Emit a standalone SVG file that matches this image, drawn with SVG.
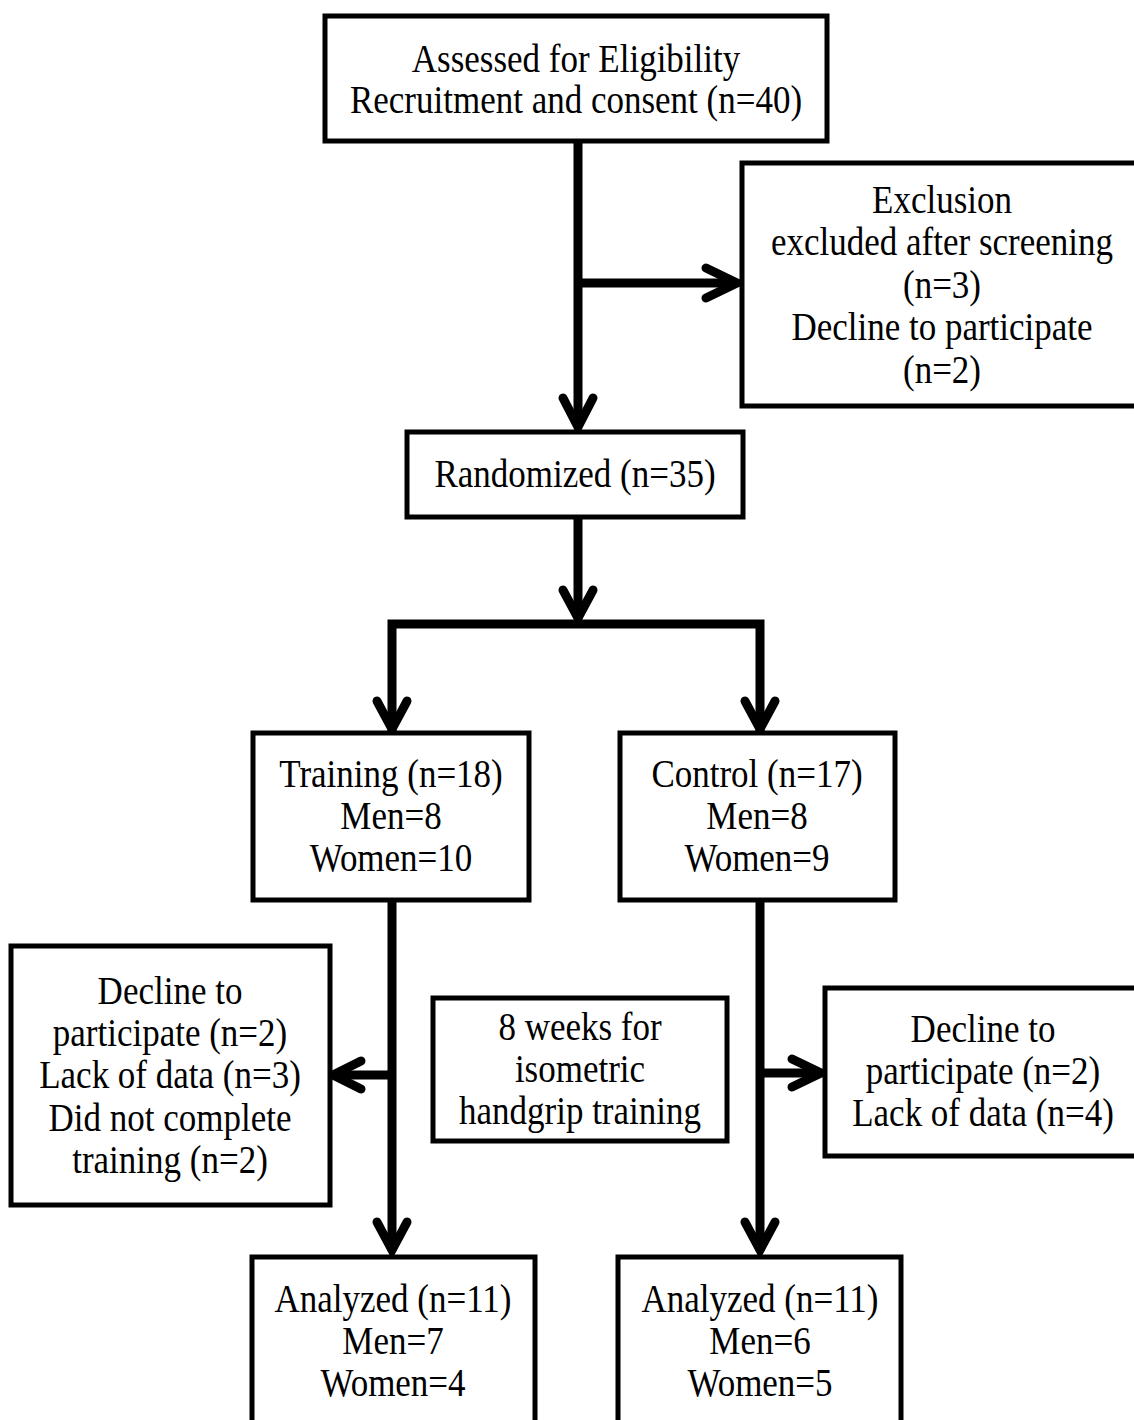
<svg xmlns="http://www.w3.org/2000/svg" width="1134" height="1420" viewBox="0 0 1134 1420">
<defs>
<style>
.box{fill:#fff;stroke:#000;stroke-width:5}
.t{font-family:"Liberation Serif","Times New Roman",serif;font-size:35px;fill:#000;text-anchor:middle}
.ln{fill:none;stroke:#000;stroke-width:9;stroke-linecap:butt}
.ah{fill:none;stroke:#000;stroke-width:9;stroke-linecap:round;stroke-linejoin:miter}
</style>
</defs>
<rect width="1134" height="1420" fill="#fff"/>
<g id="connectors">
<path class="ln" d="M578,141 V426"/>
<path class="ln" d="M578,283 H736"/>
<path class="ah" d="M706,268 L737,283 L706,298"/>
<path class="ah" d="M563,398 L578,427 L593,398"/>
<path class="ln" d="M578,517 V618"/>
<path class="ah" d="M563,590 L578,618 L593,590"/>
<path class="ln" d="M392,731 V624 H760 V731"/>
<path class="ah" d="M377,701 L392,729 L407,701"/>
<path class="ah" d="M745,701 L760,729 L775,701"/>
<path class="ln" d="M392,900 V1251"/>
<path class="ah" d="M377,1222 L392,1250 L407,1222"/>
<path class="ln" d="M392,1075 H334"/>
<path class="ah" d="M361,1061 L333,1075 L361,1089"/>
<path class="ln" d="M760,900 V1251"/>
<path class="ah" d="M745,1222 L760,1250 L775,1222"/>
<path class="ln" d="M760,1073 H820"/>
<path class="ah" d="M792,1059 L821,1073 L792,1087"/>
</g>
<g id="n1">
<rect class="box" x="325" y="16" width="502" height="125"/>
<text class="t" transform="matrix(1,0,0,1.15,576,72)">Assessed for Eligibility</text>
<text class="t" transform="matrix(1,0,0,1.15,576,113)">Recruitment and consent (n=40)</text>
</g>
<g id="n2">
<rect class="box" x="742" y="163" width="400" height="243"/>
<text class="t" transform="matrix(1,0,0,1.15,942,213)">Exclusion</text>
<text class="t" transform="matrix(1,0,0,1.15,942,255)">excluded after screening</text>
<text class="t" transform="matrix(1,0,0,1.15,942,298)">(n=3)</text>
<text class="t" transform="matrix(1,0,0,1.15,942,340)">Decline to participate</text>
<text class="t" transform="matrix(1,0,0,1.15,942,383)">(n=2)</text>
</g>
<g id="n3">
<rect class="box" x="407" y="432" width="336" height="85"/>
<text class="t" transform="matrix(1,0,0,1.15,575,487)">Randomized (n=35)</text>
</g>
<g id="n4">
<rect class="box" x="253" y="733" width="276" height="167"/>
<text class="t" transform="matrix(1,0,0,1.15,391,787)">Training (n=18)</text>
<text class="t" transform="matrix(1,0,0,1.15,391,829)">Men=8</text>
<text class="t" transform="matrix(1,0,0,1.15,391,871)">Women=10</text>
</g>
<g id="n5">
<rect class="box" x="620" y="733" width="275" height="167"/>
<text class="t" transform="matrix(1,0,0,1.15,757,787)">Control (n=17)</text>
<text class="t" transform="matrix(1,0,0,1.15,757,829)">Men=8</text>
<text class="t" transform="matrix(1,0,0,1.15,757,871)">Women=9</text>
</g>
<g id="n6">
<rect class="box" x="11" y="946" width="319" height="259"/>
<text class="t" transform="matrix(1,0,0,1.15,170,1004)">Decline to</text>
<text class="t" transform="matrix(1,0,0,1.15,170,1046)">participate (n=2)</text>
<text class="t" transform="matrix(1,0,0,1.15,170,1088)">Lack of data (n=3)</text>
<text class="t" transform="matrix(1,0,0,1.15,170,1131)">Did not complete</text>
<text class="t" transform="matrix(1,0,0,1.15,170,1173)">training (n=2)</text>
</g>
<g id="n7">
<rect class="box" x="433" y="998" width="294" height="143"/>
<text class="t" transform="matrix(1,0,0,1.15,580,1040)">8 weeks for</text>
<text class="t" transform="matrix(1,0,0,1.15,580,1082)">isometric</text>
<text class="t" transform="matrix(1,0,0,1.15,580,1124)">handgrip training</text>
</g>
<g id="n8">
<rect class="box" x="825" y="988" width="317" height="168"/>
<text class="t" transform="matrix(1,0,0,1.15,983,1042)">Decline to</text>
<text class="t" transform="matrix(1,0,0,1.15,983,1084)">participate (n=2)</text>
<text class="t" transform="matrix(1,0,0,1.15,983,1126)">Lack of data (n=4)</text>
</g>
<g id="n9">
<rect class="box" x="252" y="1257" width="283" height="180"/>
<text class="t" transform="matrix(1,0,0,1.15,393,1312)">Analyzed (n=11)</text>
<text class="t" transform="matrix(1,0,0,1.15,393,1354)">Men=7</text>
<text class="t" transform="matrix(1,0,0,1.15,393,1396)">Women=4</text>
</g>
<g id="n10">
<rect class="box" x="618" y="1257" width="283" height="180"/>
<text class="t" transform="matrix(1,0,0,1.15,760,1312)">Analyzed (n=11)</text>
<text class="t" transform="matrix(1,0,0,1.15,760,1354)">Men=6</text>
<text class="t" transform="matrix(1,0,0,1.15,760,1396)">Women=5</text>
</g>
</svg>
